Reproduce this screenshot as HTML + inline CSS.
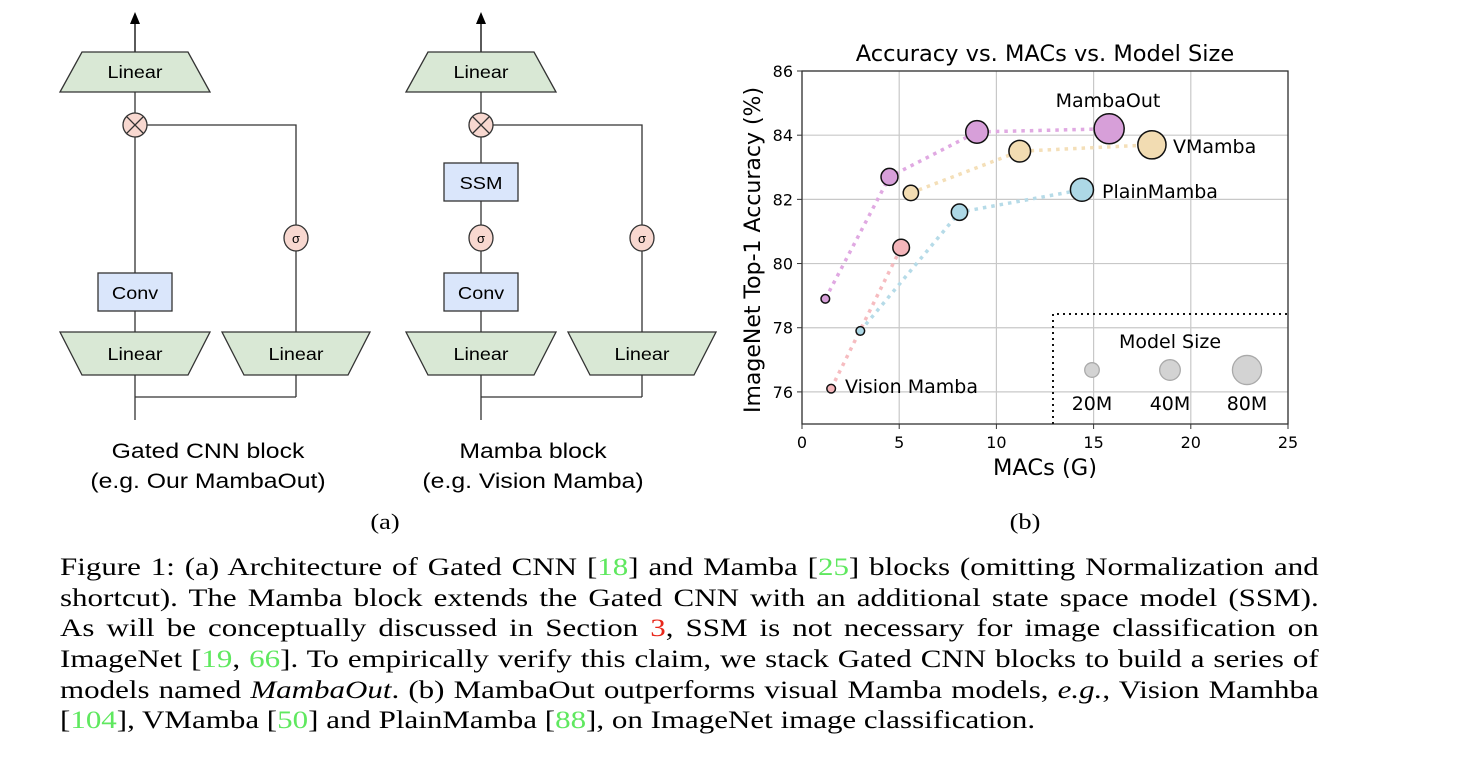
<!DOCTYPE html>
<html><head><meta charset="utf-8"><style>
body{margin:0;width:1462px;height:770px;background:#fff;position:relative;overflow:hidden}
.cap{position:absolute;left:60px;width:1036px;font:25.5px "Liberation Serif",serif;text-align:justify;text-align-last:justify;white-space:nowrap;color:#000;line-height:30px;transform:scaleX(1.215);transform-origin:0 0}
.g{color:#5fe85f}.r{color:#e8261a}
</style></head><body>
<svg width="1462" height="540" style="position:absolute;left:0;top:0">
<g stroke="#333" stroke-width="1.3" font-family="Liberation Sans,sans-serif" font-size="18">
 <line x1="135" y1="52" x2="135" y2="22" stroke="#000"/>
 <polygon points="130,24 135,12 140,24" fill="#000" stroke="none"/>
 <line x1="135" y1="92" x2="135" y2="273"/><line x1="135" y1="311" x2="135" y2="332"/>
 <line x1="135" y1="375" x2="135" y2="420"/><line x1="135" y1="397" x2="296" y2="397"/><line x1="296" y1="375" x2="296" y2="397"/>
 <polyline points="147,125 296,125 296,332" fill="none"/>
 <polygon points="82,52 188,52 210,92 60,92" fill="#d9e8d5"/>
 <text transform="translate(135,78) scale(1.1,1)" text-anchor="middle" stroke="none" fill="#000">Linear</text>
 <circle cx="135" cy="125" r="12" fill="#f8d8d0"/>
 <path d="M127,117 L143,133 M143,117 L127,133"/>
 <ellipse cx="296" cy="238" rx="12" ry="13" fill="#f8d8d0"/>
 <text x="296" y="243" text-anchor="middle" stroke="none" fill="#000" font-size="13">σ</text>
 <rect x="98" y="273" width="74" height="38" fill="#dae6fb"/>
 <text transform="translate(135,299) scale(1.1,1)" text-anchor="middle" stroke="none" fill="#000">Conv</text>
 <polygon points="60,332 210,332 188,375 82,375" fill="#d9e8d5"/>
 <text transform="translate(135,360) scale(1.1,1)" text-anchor="middle" stroke="none" fill="#000">Linear</text>
 <polygon points="222,332 370,332 348,375 244,375" fill="#d9e8d5"/>
 <text transform="translate(296,360) scale(1.1,1)" text-anchor="middle" stroke="none" fill="#000">Linear</text>
 <text transform="translate(208,458) scale(1.18,1)" text-anchor="middle" stroke="none" fill="#000" font-size="21">Gated CNN block</text>
 <text transform="translate(208,488) scale(1.18,1)" text-anchor="middle" stroke="none" fill="#000" font-size="21">(e.g. Our MambaOut)</text>
</g>
<g stroke="#333" stroke-width="1.3" font-family="Liberation Sans,sans-serif" font-size="18">
 <line x1="481" y1="52" x2="481" y2="22" stroke="#000"/>
 <polygon points="476,24 481,12 486,24" fill="#000" stroke="none"/>
 <line x1="481" y1="92" x2="481" y2="163"/><line x1="481" y1="201" x2="481" y2="273"/><line x1="481" y1="311" x2="481" y2="332"/>
 <line x1="481" y1="375" x2="481" y2="420"/><line x1="481" y1="397" x2="642" y2="397"/><line x1="642" y1="375" x2="642" y2="397"/>
 <polyline points="493,125 642,125 642,332" fill="none"/>
 <polygon points="428,52 534,52 556,92 406,92" fill="#d9e8d5"/>
 <text transform="translate(481,78) scale(1.1,1)" text-anchor="middle" stroke="none" fill="#000">Linear</text>
 <circle cx="481" cy="125" r="12" fill="#f8d8d0"/>
 <path d="M473,117 L489,133 M489,117 L473,133"/>
 <rect x="444" y="163" width="74" height="38" fill="#dae6fb"/>
 <text transform="translate(481,189) scale(1.1,1)" text-anchor="middle" stroke="none" fill="#000">SSM</text>
 <ellipse cx="481" cy="238" rx="12" ry="13" fill="#f8d8d0"/>
 <text x="481" y="243" text-anchor="middle" stroke="none" fill="#000" font-size="13">σ</text>
 <ellipse cx="642" cy="238" rx="12" ry="13" fill="#f8d8d0"/>
 <text x="642" y="243" text-anchor="middle" stroke="none" fill="#000" font-size="13">σ</text>
 <rect x="444" y="273" width="74" height="38" fill="#dae6fb"/>
 <text transform="translate(481,299) scale(1.1,1)" text-anchor="middle" stroke="none" fill="#000">Conv</text>
 <polygon points="406,332 556,332 534,375 428,375" fill="#d9e8d5"/>
 <text transform="translate(481,360) scale(1.1,1)" text-anchor="middle" stroke="none" fill="#000">Linear</text>
 <polygon points="568,332 716,332 694,375 590,375" fill="#d9e8d5"/>
 <text transform="translate(642,360) scale(1.1,1)" text-anchor="middle" stroke="none" fill="#000">Linear</text>
 <text transform="translate(533,458) scale(1.18,1)" text-anchor="middle" stroke="none" fill="#000" font-size="21">Mamba block</text>
 <text transform="translate(533,488) scale(1.18,1)" text-anchor="middle" stroke="none" fill="#000" font-size="21">(e.g. Vision Mamba)</text>
</g>
<text transform="translate(385,529) scale(1.2,1)" text-anchor="middle" font-family="Liberation Serif,serif" font-size="22">(a)</text>
<text transform="translate(1025,529) scale(1.2,1)" text-anchor="middle" font-family="Liberation Serif,serif" font-size="22">(b)</text>
<g id="chart" font-family="DejaVu Sans,sans-serif"></g>
</svg>
<div class="cap" style="top:552px">Figure 1: (a) Architecture of Gated CNN [<span class="g">18</span>] and Mamba [<span class="g">25</span>] blocks (omitting Normalization and</div>
<div class="cap" style="top:583px">shortcut). The Mamba block extends the Gated CNN with an additional state space model (SSM).</div>
<div class="cap" style="top:613px">As will be conceptually discussed in Section <span class="r">3</span>, SSM is not necessary for image classification on</div>
<div class="cap" style="top:644px">ImageNet [<span class="g">19</span>, <span class="g">66</span>]. To empirically verify this claim, we stack Gated CNN blocks to build a series of</div>
<div class="cap" style="top:675px">models named <i>MambaOut</i>. (b) MambaOut outperforms visual Mamba models, <i>e.g.</i>, Vision Mamhba</div>
<div class="cap" style="top:705px;text-align-last:left;width:auto">[<span class="g">104</span>], VMamba [<span class="g">50</span>] and PlainMamba [<span class="g">88</span>], on ImageNet image classification.</div>
<script>
const xTicks=[0,5,10,15,20,25];
const yTicks=[76,78,80,82,84,86];
const seriesNames=["MambaOut","VMamba","PlainMamba","Vision Mamba"];
const macsMambaOut=[1.2,4.5,9.0,15.8];
const accMambaOut=[78.9,82.7,84.1,84.2];
const sizeMambaOut=[7,27,48,85];
const macsVMamba=[5.6,11.2,18.0];
const accVMamba=[82.2,83.5,83.7];
const sizeVMamba=[22,44,75];
const macsPlain=[3.0,8.1,14.4];
const accPlain=[77.9,81.6,82.3];
const sizePlain=[7,25,50];
const macsVim=[1.5,5.1];
const accVim=[76.1,80.5];
const sizeVim=[7,26];
const legendSizes=[20,40,80];
const legendLabels=["20M","40M","80M"];

const NS="http://www.w3.org/2000/svg";
const g=document.getElementById('chart');
const X0=802,X1=1288,Y0=424,Y1=71,xMin=0,xMax=25,yMin=75,yMax=86;
const sx=v=>X0+(v-xMin)/(xMax-xMin)*(X1-X0);
const sy=v=>Y0-(v-yMin)/(yMax-yMin)*(Y0-Y1);
const rs=s=>1.63*Math.sqrt(s);
function el(t,a,p){const e=document.createElementNS(NS,t);for(const k in a)e.setAttribute(k,a[k]);(p||g).appendChild(e);return e;}
xTicks.forEach(t=>{
  const l=el('line',{x1:sx(t),x2:sx(t),y1:Y1,y2:Y0,stroke:'#c8c8c8','stroke-width':1.2});
  
  
  el('line',{x1:sx(t),x2:sx(t),y1:Y0,y2:Y0+5,stroke:'#333'});
  const tx=el('text',{x:sx(t),y:Y0+24,'text-anchor':'middle','font-size':16});tx.textContent=t;
  
  
});
yTicks.forEach(t=>{
  const l=el('line',{x1:X0,x2:X1,y1:sy(t),y2:sy(t),stroke:'#c8c8c8','stroke-width':1.2});
  
  
  el('line',{x1:X0-5,x2:X0,y1:sy(t),y2:sy(t),stroke:'#333'});
  const tx=el('text',{x:X0-9,y:sy(t)+6,'text-anchor':'end','font-size':16});tx.textContent=t;
  
  
});
const series=[
 [macsMambaOut,accMambaOut,sizeMambaOut,'#d79fd9','#e0a9e2'],
 [macsVMamba,accVMamba,sizeVMamba,'#f2dcb2','#f4dfb8'],
 [macsPlain,accPlain,sizePlain,'#add8e6','#b6dbe8'],
 [macsVim,accVim,sizeVim,'#f4b5ba','#f6bcc0']];
series.forEach((s,i)=>{
  const pts=s[0].map((x,j)=>sx(x)+','+sy(s[1][j])).join(' ');
  const pl=el('polyline',{points:pts,fill:'none',stroke:s[4],'stroke-width':3.5,'stroke-dasharray':'3.5 5'});
  
  
});
series.forEach((s,i)=>{
  s[0].forEach((x,j)=>{
    const c=el('circle',{cx:sx(x),cy:sy(s[1][j]),r:rs(s[2][j]),fill:s[3],stroke:'#111','stroke-width':1.5});
    
    
  });
});
el('rect',{x:X0,y:Y1,width:X1-X0,height:Y0-Y1,fill:'none',stroke:'#333','stroke-width':1.3});
function txt(x,y,s,a,fs,name){const t=el('text',{x:x,y:y,'font-size':fs,'text-anchor':a||'start'});t.textContent=s;
  
  return t;}
txt(1108,107,seriesNames[0],'middle',19,'label-mambaout');
txt(1173,153,seriesNames[1],'start',19,'label-vmamba');
txt(1102,198,seriesNames[2],'start',19,'label-plainmamba');
txt(845,393,seriesNames[3],'start',19,'label-vision-mamba');
txt(1045,61,'Accuracy vs. MACs vs. Model Size','middle',22.5,'chart-title');
txt(1045,475,'MACs (G)','middle',22.5,'x-axis-title');
const yt=txt(0,0,'ImageNet Top-1 Accuracy (%)','middle',22,'y-axis-title');
yt.setAttribute('transform','translate(760,250) rotate(-90)');
const lb=el('polyline',{points:`1053,${Y0} 1053,314 ${X1},314`,fill:'none',stroke:'#111','stroke-width':2,'stroke-dasharray':'2 4'});


txt(1170,348,'Model Size','middle',19,'legend-title');
const lx=[1092,1170,1247];
legendSizes.forEach((s,i)=>{
  const c=el('circle',{cx:lx[i],cy:370,r:rs(s),fill:'#d3d3d3',stroke:'#aaa','stroke-width':1.3});
  
  
  txt(lx[i],410,legendLabels[i],'middle',19,'legend-label');
});
</script>
</body></html>
